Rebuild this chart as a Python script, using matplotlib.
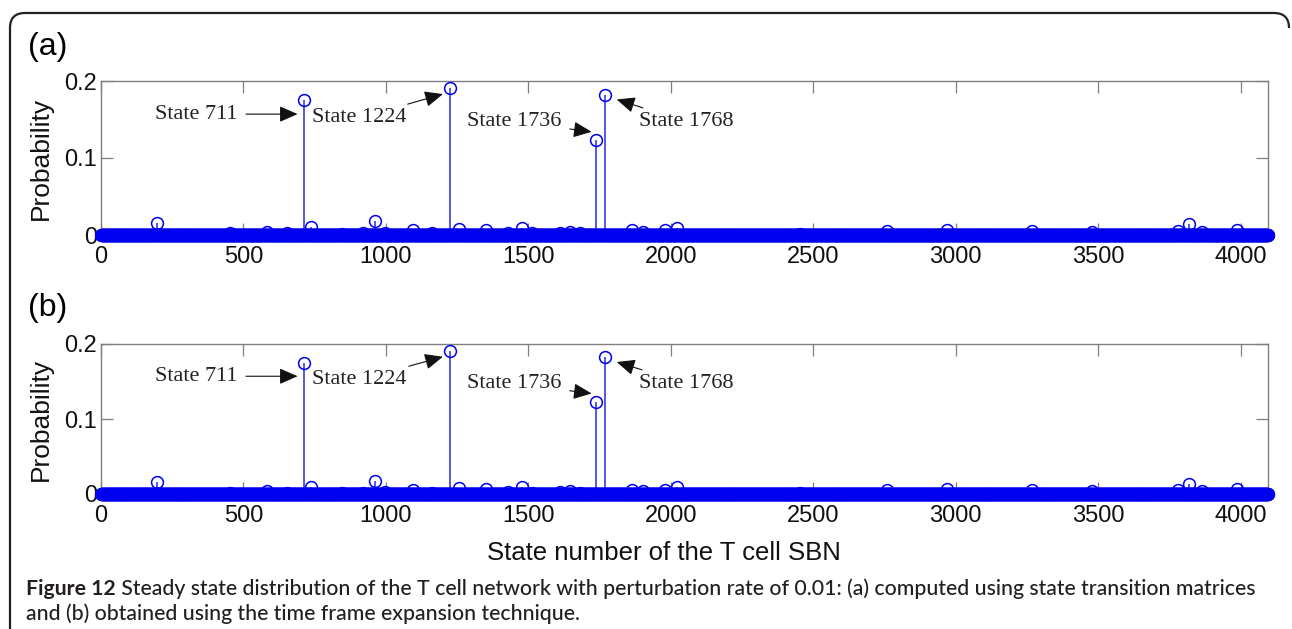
import numpy as np
import matplotlib.pyplot as plt
from matplotlib.path import Path
import matplotlib.patches as patches

# ---- data ----
n_states = 4096
peak_states = [197, 453, 583, 653, 711, 737, 846, 920, 962, 997, 1096, 1162,
               1224, 1257, 1352, 1429, 1478, 1513, 1612, 1647, 1682, 1736,
               1768, 1864, 1903, 1980, 2022, 2454, 2760, 2970, 3268, 3479,
               3781, 3817, 3865, 3988]
# (a) state transition matrices
peak_probs_a = [0.016, 0.002, 0.004, 0.002, 0.175, 0.010, 0.001, 0.002, 0.018,
                0.003, 0.006, 0.002, 0.191, 0.008, 0.007, 0.003, 0.009, 0.002,
                0.003, 0.004, 0.002, 0.123, 0.182, 0.006, 0.004, 0.006, 0.009,
                0.001, 0.005, 0.007, 0.005, 0.004, 0.005, 0.014, 0.004, 0.007]
# (b) time frame expansion
peak_probs_b = [0.016, 0.002, 0.004, 0.002, 0.175, 0.010, 0.001, 0.002, 0.018,
                0.003, 0.006, 0.002, 0.191, 0.008, 0.007, 0.003, 0.009, 0.002,
                0.003, 0.004, 0.002, 0.123, 0.183, 0.006, 0.004, 0.006, 0.009,
                0.001, 0.005, 0.007, 0.005, 0.004, 0.005, 0.014, 0.004, 0.007]

xticks = [0, 500, 1000, 1500, 2000, 2500, 3000, 3500, 4000]
yticks = [0, 0.1, 0.2]
ytick_labels = ['0', '0.1', '0.2']

state_labels = ['State 711', 'State 1224', 'State 1736', 'State 1768']
label_xy = [(190, 0.157), (741, 0.152), (1285, 0.147), (1890, 0.147)]
arrow_xy = [(690, 0.157), (1200, 0.183), (1722, 0.134), (1810, 0.176)]

W, H = 1292, 629
BLUE = '#0000f0'
sans = 'Liberation Sans'
serif = 'Liberation Serif'

fig = plt.figure(figsize=(W / 100, H / 100), dpi=100)


def px_rect(left, top, right, bottom):
    return [left / W, 1 - bottom / H, (right - left) / W, (bottom - top) / H]


def draw_panel(ax, probs_peaks):
    states = np.arange(1, n_states + 1)
    probs = np.zeros(n_states)
    probs[np.array(peak_states) - 1] = probs_peaks
    nz = probs > 0
    ax.vlines(states[nz], 0, probs[nz], color='#2a2ae6', lw=1.1, zorder=3)
    ax.plot(states, probs, 'o', mfc='none', mec=BLUE, ms=8.5, mew=1.1,
            clip_on=False, zorder=4)
    ax.set_xlim(0, n_states)
    ax.set_ylim(0, 0.2)
    ax.set_xticks(xticks)
    ax.set_xticklabels([str(t) for t in xticks], fontfamily=sans)
    ax.set_yticks(yticks)
    ax.set_yticklabels(ytick_labels, fontfamily=sans)
    ax.tick_params(direction='in', length=8.5, width=0.9, color='#7f7f7f',
                   top=True, right=True, labelsize=17, labelcolor='#111111')
    ax.tick_params(axis='x', pad=8)
    ax.tick_params(axis='y', pad=3)
    for s in ax.spines.values():
        s.set_color('#7f7f7f')
        s.set_linewidth(1.0)
    ax.set_ylabel('Probability', fontsize=19, fontfamily=sans, color='#111111')
    ax.yaxis.set_label_coords(-0.041, 0.5)
    for lab, txy, axy in zip(state_labels, label_xy, arrow_xy):
        ax.annotate(lab, xy=axy, xytext=txy, ha='left', va='center',
                    fontsize=16, fontfamily=serif, color='#222222',
                    arrowprops=dict(arrowstyle='-|>,head_length=0.8,head_width=0.35',
                                    color='#111111', lw=0.8, mutation_scale=14,
                                    shrinkA=4, shrinkB=0))


ax_a = fig.add_axes(px_rect(101, 81, 1268, 235))
draw_panel(ax_a, peak_probs_a)
ax_b = fig.add_axes(px_rect(101, 344, 1268, 494))
draw_panel(ax_b, peak_probs_b)

fig.text(28 / W, 1 - 47 / H, '(a)', fontsize=23, fontfamily=sans, va='center')
fig.text(28 / W, 1 - 308 / H, '(b)', fontsize=23, fontfamily=sans, va='center')
fig.text(664 / W, 1 - 553 / H, 'State number of the T cell SBN', fontsize=18.5,
         fontfamily=sans, ha='center', va='center', color='#111111')

# frame: left side + top with rounded corners
pts = [(10, H + 5), (10, 28), (10, 13), (25, 13), (1274, 13), (1289, 13), (1289, 28)]
codes = [Path.MOVETO, Path.LINETO, Path.CURVE3, Path.CURVE3, Path.LINETO,
         Path.CURVE3, Path.CURVE3]
frame = Path([(x / W, 1 - y / H) for x, y in pts], codes)
fig.add_artist(patches.PathPatch(frame, fill=False, lw=1.6, ec='#222222',
                                 transform=fig.transFigure))

# caption, fitted to the measured line width
cap_font = 'Lato'
cap_color = '#231f20'
line1_bold = 'Figure 12'
line1_rest = (' Steady state distribution of the T cell network with perturbation '
              'rate of 0.01: (a) computed using state transition matrices')
line2 = 'and (b) obtained using the time frame expansion technique.'
cap_left, cap_right = 26, 1254

fig.canvas.draw()
renderer = fig.canvas.get_renderer()
size = 12
t_bold = fig.text(cap_left / W, 1 - 589 / H, line1_bold, fontsize=size,
                  fontweight='bold', fontfamily=cap_font, va='center', color=cap_color)
t_rest = fig.text(0, 1 - 589 / H, line1_rest, fontsize=size, fontweight='medium',
                  fontfamily=cap_font, va='center', color=cap_color)
w = t_bold.get_window_extent(renderer).width + t_rest.get_window_extent(renderer).width
size = size * (cap_right - cap_left) / w
t_bold.set_fontsize(size)
t_rest.set_fontsize(size)
bw = t_bold.get_window_extent(renderer).width
t_rest.set_x((cap_left + bw) / W)
fig.text(cap_left / W, 1 - 614 / H, line2, fontsize=size, fontfamily=cap_font,
         fontweight='medium', va='center', color=cap_color)

fig.savefig('out.png', dpi=100)
